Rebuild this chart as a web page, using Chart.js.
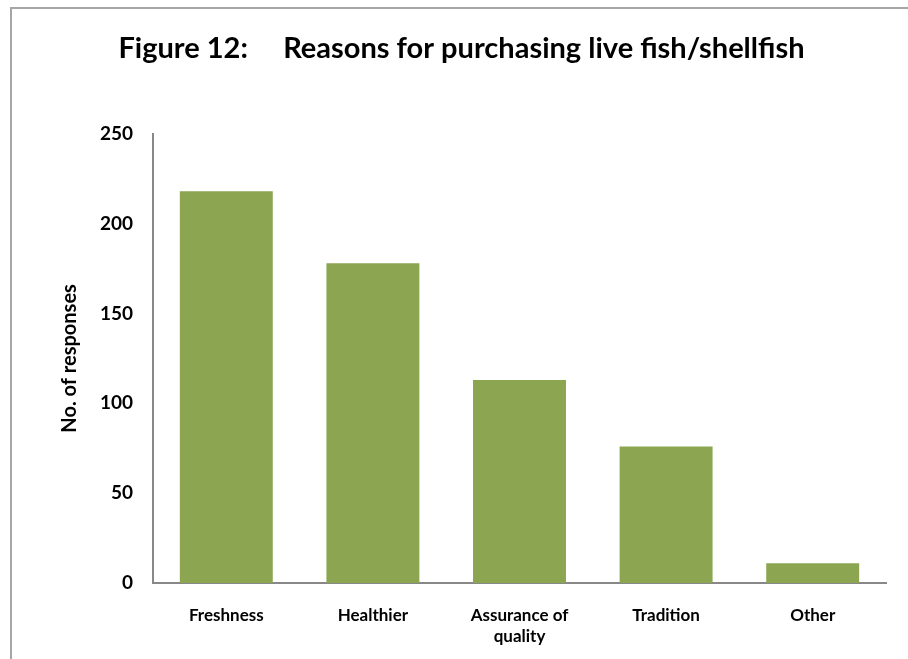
<!DOCTYPE html>
<html>
<head>
<meta charset="utf-8">
<script src="https://cdn.jsdelivr.net/npm/chart.js@4.4.1/dist/chart.umd.min.js"></script>
<style>
  html, body { margin: 0; padding: 0; background: #fff; }
  #wrap { position: relative; width: 908px; height: 659px; }
  #frame { position: absolute; left: 10px; top: 7px; right: 0; bottom: 0;
           border-top: 2px solid #a6a6a6; border-left: 2px solid #a6a6a6; }
  canvas { position: absolute; left: 0; top: 0; }
</style>
</head>
<body>
<div id="wrap">
  <div id="frame"></div>
  <canvas id="c" width="908" height="659"></canvas>
</div>
<script>
const titleText = "Figure 12:     Reasons for purchasing live fish/shellfish";
const axisTitle = "No. of responses";
const categories = ["Freshness", "Healthier", ["Assurance of", "quality"], "Tradition", "Other"];
const responses = [218, 178, 113, 76, 11];
const yTicks = [0, 50, 100, 150, 200, 250];

const FONT = "Lato, 'Open Sans', sans-serif";

new Chart(document.getElementById('c'), {
  type: 'bar',
  data: {
    labels: categories,
    datasets: [{
      data: responses,
      backgroundColor: '#8ba551',
      borderWidth: 0,
      categoryPercentage: 1,
      barPercentage: 0.634
    }]
  },
  options: {
    responsive: false,
    animation: false,
    devicePixelRatio: 1,
    layout: { padding: { top: 0, right: 22, bottom: 0, left: 37 } },
    plugins: {
      legend: { display: false },
      tooltip: { enabled: false },
      title: {
        display: true,
        text: titleText,
        color: '#000',
        font: { family: FONT, size: 29, weight: 'bold', lineHeight: 1.2 },
        padding: { top: 31, bottom: 68 }
      }
    },
    scales: {
      x: {
        grid: { display: false, drawTicks: false },
        border: { display: true, color: '#888', width: 2 },
        ticks: {
          color: '#000',
          font: { family: FONT, size: 17, weight: 'bold', lineHeight: 1.25 },
          padding: 22,
          maxRotation: 0,
          autoSkip: false
        },
        afterFit: s => { s.height = 76; }
      },
      y: {
        min: 0, max: 250,
        afterBuildTicks: s => { s.ticks = yTicks.map(v => ({ value: v })); },
        grid: { display: false, drawTicks: false },
        border: { display: true, color: '#888', width: 2 },
        ticks: {
          color: '#000',
          font: { family: FONT, size: 19, weight: 'bold' },
          padding: 20
        },
        title: {
          display: true,
          text: axisTitle,
          color: '#000',
          font: { family: FONT, size: 20, weight: 'bold', lineHeight: 1.2 },
          padding: { top: 21, bottom: 0 }
        },
        afterFit: s => { s.width = 116; }
      }
    }
  }
});
</script>
</body>
</html>
